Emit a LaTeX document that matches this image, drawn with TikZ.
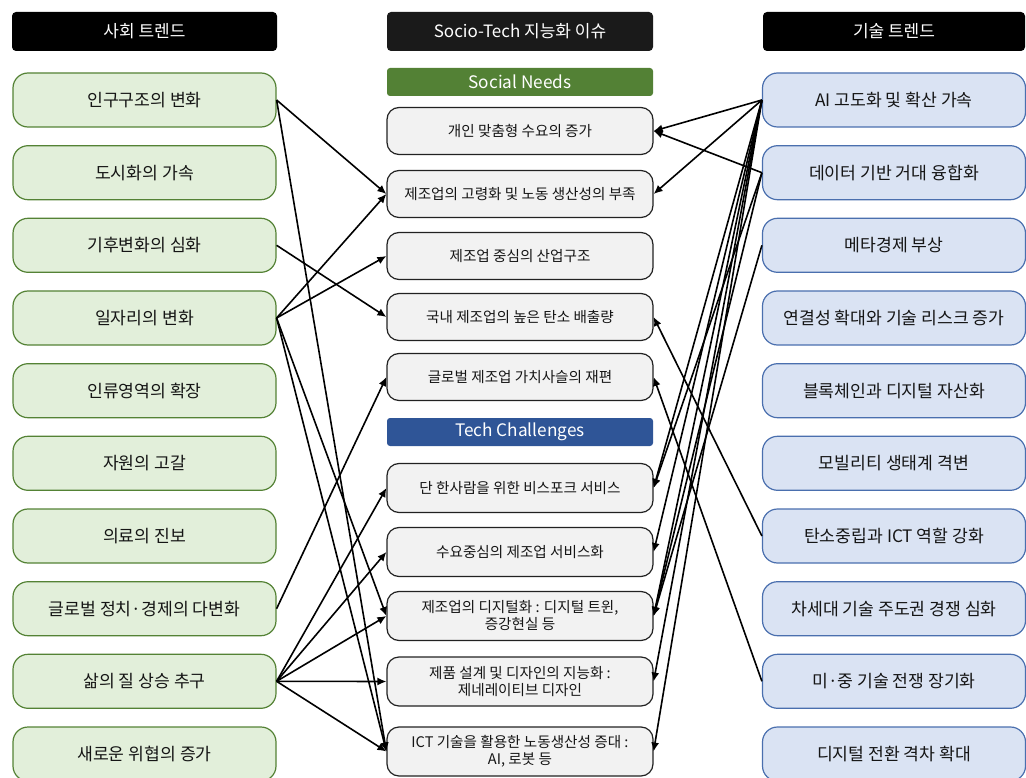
\documentclass[tikz,border=0pt]{standalone}
\usepackage{fontspec}
\setmainfont{Noto Sans CJK KR}
\usetikzlibrary{arrows.meta}

\definecolor{greenfill}{HTML}{E2EFDA}
\definecolor{greenline}{HTML}{548235}
\definecolor{bluefill}{HTML}{DAE3F3}
\definecolor{blueline}{HTML}{4A6FAE}
\definecolor{issuefill}{HTML}{F2F2F2}
\definecolor{issueline}{HTML}{222222}
\definecolor{needsband}{HTML}{538135}
\definecolor{techband}{HTML}{2F5597}
\definecolor{midhead}{HTML}{1A1A1A}
\definecolor{textdark}{HTML}{151515}

\begin{document}
\begin{tikzpicture}[x=1pt,y=-1pt,
  every node/.style={inner sep=0pt, text=textdark},
  trend/.style={rounded corners=15pt, minimum width=263pt, minimum height=54pt,
    font=\fontsize{17.2}{20}\selectfont, line width=1.2pt},
  socialtrend/.style={trend, draw=greenline, fill=greenfill},
  techtrend/.style={trend, draw=blueline, fill=bluefill},
  issue/.style={rounded corners=12pt, draw=issueline, fill=issuefill,
    minimum width=266pt, minimum height=47pt, align=center,
    font=\fontsize{14.6}{17}\selectfont, line width=1.2pt},
  issuetall/.style={issue, minimum height=49pt},
  header/.style={rounded corners=4pt, text=white, minimum width=265pt,
    minimum height=39pt, font=\fontsize{17}{20}\selectfont},
  band/.style={rounded corners=3pt, text=white, minimum width=266pt,
    minimum height=28pt, font=\fontsize{17.2}{20}\selectfont},
  link/.style={-{Latex[length=9pt,width=8pt]}, line width=1.6pt, draw=black}
]
\useasboundingbox (0,0) rectangle (1026,778);

% column headers
\node[header, fill=black] (hs) at (144.5,31.5) {사회 트렌드};
\node[header, fill=midhead, minimum width=266pt] (hm) at (520,31.5) {Socio-Tech 지능화 이슈};
\node[header, fill=black, minimum width=262pt] (ht) at (894,31.5) {기술 트렌드};

% social trends
\node[socialtrend] (l1)  at (144.5,100)   {인구구조의 변화};
\node[socialtrend] (l2)  at (144.5,172.7) {도시화의 가속};
\node[socialtrend] (l3)  at (144.5,245.3) {기후변화의 심화};
\node[socialtrend] (l4)  at (144.5,318)   {일자리의 변화};
\node[socialtrend] (l5)  at (144.5,390.7) {인류영역의 확장};
\node[socialtrend] (l6)  at (144.5,463.3) {자원의 고갈};
\node[socialtrend] (l7)  at (144.5,536)   {의료의 진보};
\node[socialtrend] (l8)  at (144.5,608.7) {글로벌 정치·경제의 다변화};
\node[socialtrend] (l9)  at (144.5,681.3) {삶의 질 상승 추구};
\node[socialtrend] (l10) at (144.5,754)   {새로운 위협의 증가};

% technology trends
\node[techtrend] (r1)  at (894,100)   {AI 고도화 및 확산 가속};
\node[techtrend] (r2)  at (894,172.7) {데이터 기반 거대 융합화};
\node[techtrend] (r3)  at (894,245.3) {메타경제 부상};
\node[techtrend] (r4)  at (894,318)   {연결성 확대와 기술 리스크 증가};
\node[techtrend] (r5)  at (894,390.7) {블록체인과 디지털 자산화};
\node[techtrend] (r6)  at (894,463.3) {모빌리티 생태계 격변};
\node[techtrend] (r7)  at (894,536)   {탄소중립과 ICT 역할 강화};
\node[techtrend] (r8)  at (894,608.7) {차세대 기술 주도권 경쟁 심화};
\node[techtrend] (r9)  at (894,681.3) {미·중 기술 전쟁 장기화};
\node[techtrend] (r10) at (894,754)   {디지털 전환 격차 확대};

% socio-tech issues
\node[band, fill=needsband] (sn) at (520,82) {Social Needs};
\node[issue] (m1) at (520,131) {개인 맞춤형 수요의 증가};
\node[issue] (m2) at (520,194) {제조업의 고령화 및 노동 생산성의 부족};
\node[issue] (m3) at (520,256) {제조업 중심의 산업구조};
\node[issue] (m4) at (520,317) {국내 제조업의 높은 탄소 배출량};
\node[issue] (m5) at (520,377) {글로벌 제조업 가치사슬의 재편};
\node[band, fill=techband] (tc) at (520,432) {Tech Challenges};
\node[issuetall] (m6)  at (520,488)   {단 한사람을 위한 비스포크 서비스};
\node[issuetall] (m7)  at (520,552)   {수요중심의 제조업 서비스화};
\node[issuetall] (m8)  at (520,616)   {제조업의 디지털화 : 디지털 트윈,\\증강현실 등};
\node[issuetall] (m9)  at (520,681.5) {제품 설계 및 디자인의 지능화 :\\제네레이티브 디자인};
\node[issuetall] (m10) at (520,751.5) {ICT 기술을 활용한 노동생산성 증대 :\\AI, 로봇 등};

% social trends -> issues
\draw[link] (l1.east) -- (m2.west);
\draw[link] (l1.east) -- (m10.west);
\draw[link] (l3.east) -- (m4.west);
\draw[link] (l4.east) -- (m2.west);
\draw[link] (l4.east) -- (m3.west);
\draw[link] (l4.east) -- (m8.west);
\draw[link] (l4.east) -- (m10.west);
\draw[link] (l8.east) -- (m5.west);
\draw[link] (l9.east) -- (m6.west);
\draw[link] (l9.east) -- (m7.west);
\draw[link] (l9.east) -- (m8.west);
\draw[link] (l9.east) -- (m9.west);
\draw[link] (l9.east) -- (m10.west);

% technology trends -> issues
\draw[link] (r1.west) -- (m1.east);
\draw[link] (r1.west) -- (m2.east);
\draw[link] (r2.west) -- (m1.east);
\draw[link] (r1.west) -- (m6.east);
\draw[link] (r2.west) -- (m6.east);
\draw[link] (r1.west) -- (m7.east);
\draw[link] (r1.west) -- (m8.east);
\draw[link] (r2.west) -- (m8.east);
\draw[link] (r3.west) -- (m8.east);
\draw[link] (r1.west) -- (m9.east);
\draw[link] (r1.west) -- (m10.east);
\draw[link] (r7.west) -- (m4.east);
\draw[link] (r9.west) -- (m5.east);
\end{tikzpicture}
\end{document}
